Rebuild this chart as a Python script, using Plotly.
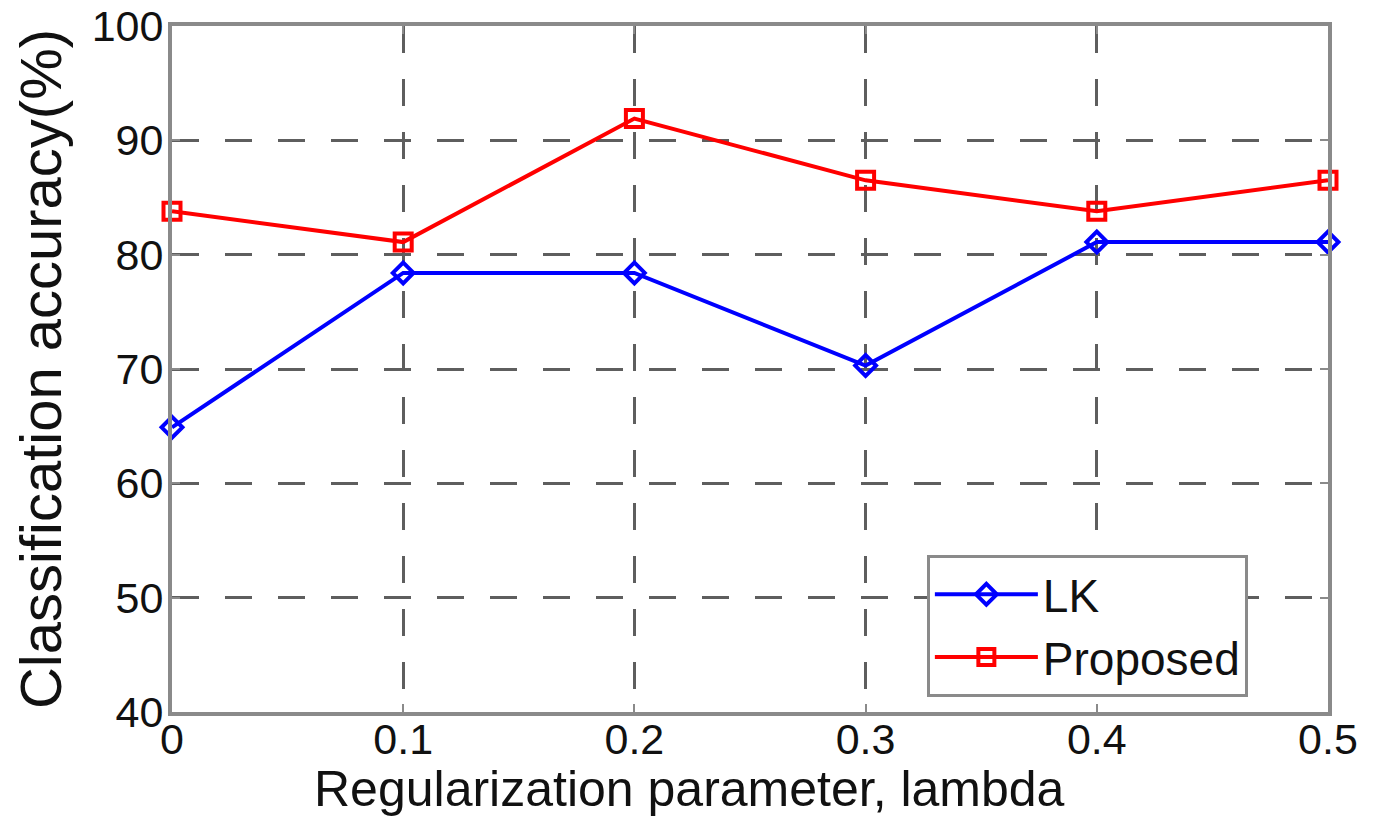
import plotly.graph_objects as go

# ----------------------------------------------------------
# Data (accuracy in %)
# ----------------------------------------------------------
lambdas = [0.0, 0.1, 0.2, 0.3, 0.4, 0.5]
lk_acc = [64.9, 78.4, 78.4, 70.3, 81.1, 81.1]
proposed_acc = [83.8, 81.1, 91.9, 86.5, 83.8, 86.5]

FONT = "Liberation Sans, Arial, sans-serif"
FRAME = "#8a8a8a"
GRID = "#5e5e5e"
TEXT = "#111111"

fig = go.Figure()

fig.add_trace(go.Scatter(
    x=lambdas, y=lk_acc, name="LK",
    mode="lines+markers",
    line=dict(color="#0000ff", width=4),
    marker=dict(symbol="diamond-open", size=16, color="#0000ff",
                line=dict(width=4, color="#0000ff")),
    cliponaxis=False,
))

fig.add_trace(go.Scatter(
    x=lambdas, y=proposed_acc, name="Proposed",
    mode="lines+markers",
    line=dict(color="#ff0000", width=4),
    marker=dict(symbol="square-open", size=17, color="#ff0000",
                line=dict(width=4, color="#ff0000")),
    cliponaxis=False,
))

axis_common = dict(
    showline=True, mirror="ticks", linecolor=FRAME, linewidth=4,
    ticks="inside", ticklen=8, tickwidth=2, tickcolor=FRAME,
    showgrid=True, gridcolor=GRID, gridwidth=3, griddash="27px,26px",
    zeroline=False, automargin=False, ticklabeloverflow="allow",
    tickfont=dict(family=FONT, size=43, color=TEXT),
)

fig.update_xaxes(
    range=[0, 0.5], tick0=0, dtick=0.1,
    ticklabelstandoff=-14,
    **axis_common,
)

fig.update_yaxes(
    range=[40, 100], tick0=40, dtick=10,
    ticklabelstandoff=-4,
    title=dict(text="Classification accuracy(%)",
               font=dict(family=FONT, size=58, color=TEXT),
               standoff=40),
    **axis_common,
)

# x-axis title sits a bit left of centre in the original
fig.add_annotation(
    text="Regularization parameter, lambda",
    xref="paper", yref="paper", x=0.448, y=-0.112,
    xanchor="center", yanchor="middle", showarrow=False,
    font=dict(family=FONT, size=50, color=TEXT),
)

fig.update_layout(
    width=1364, height=819,
    paper_bgcolor="white", plot_bgcolor="white",
    margin=dict(l=164, r=44, t=18, b=115),
    font=dict(family=FONT, color=TEXT),
    legend=dict(
        x=0.653, y=0.022, xanchor="left", yanchor="bottom",
        bgcolor="white", bordercolor=FRAME, borderwidth=3,
        font=dict(family=FONT, size=46, color=TEXT),
        itemwidth=103, tracegroupgap=0,
    ),
    showlegend=True,
)

fig.write_html("out.html")
